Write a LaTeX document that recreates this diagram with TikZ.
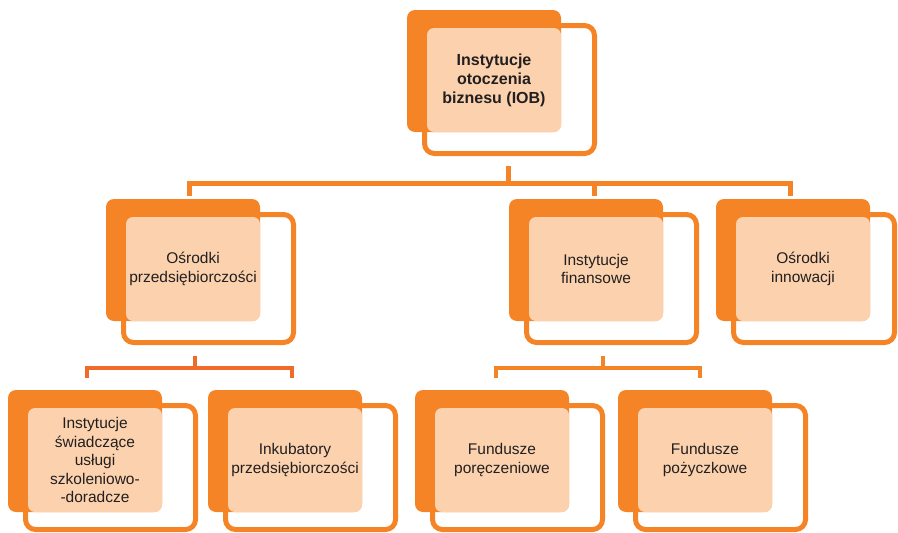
\documentclass[tikz,border=0pt]{standalone}
\usepackage{fontspec}
\setmainfont{Liberation Sans}
\definecolor{iobor}{HTML}{F58426}
\definecolor{iobred}{HTML}{F06A2A}
\definecolor{iobpe}{HTML}{FBD2AD}
\definecolor{iobtx}{HTML}{231F20}
\tikzset{
  orangebox/.style={fill=iobor, draw=none, rounded corners=8pt, inner sep=0pt, outer sep=0pt},
  ringbox/.style={draw=iobor, line width=5pt, rounded corners=10pt, inner sep=0pt, outer sep=0pt},
  peachbox/.style={fill=iobpe, draw=none, rounded corners=7pt, inner sep=0pt, outer sep=0pt,
    text=iobtx, align=center, font=\fontsize{15.5}{18.5}\selectfont},
  toptext/.style={font=\fontsize{16}{19}\selectfont\bfseries},
  bus/.style={draw=iobor, line width=5pt, line join=miter},
  busr/.style={draw=iobred, line width=4pt, line join=miter},
  busl/.style={draw=iobor, line width=4pt, line join=miter},
}
% [peach style], name, ox, oy, ring width, ring height, text
\newcommand\iobnode[7][]{%
  \node[orangebox, minimum width=154pt, minimum height=122pt, anchor=north west] (#2-b) at (#3,#4) {};
  \node[ringbox, minimum width=#5pt, minimum height=#6pt, anchor=north west] (#2-r) at (#3+17.5,#4+15.5) {};
  \node[peachbox, #1, minimum width=134pt, minimum height=104pt, anchor=north west] (#2) at (#3+20,#4+18) {#7};
}
\begin{document}
\begin{tikzpicture}[x=1pt,y=-1pt]
\useasboundingbox (0,0) rectangle (898,533);
% top level
\iobnode[toptext]{top}{407}{10}{170}{128}{Instytucje\\otoczenia\\biznesu (IOB)}
% second level
\iobnode{osp}{106}{199}{170}{128}{Ośrodki\\przedsiębiorczości}
\iobnode{inf}{509}{199}{170}{128}{Instytucje\\finansowe}
\iobnode{osi}{716}{199}{161}{128}{Ośrodki\\innowacji}
% third level
\iobnode{isu}{8}{390}{170}{124}{Instytucje\\świadczące\\usługi\\szkoleniowo-\\-doradcze}
\iobnode{ink}{208}{390}{170}{124}{Inkubatory\\przedsiębiorczości}
\iobnode{fpo}{415}{390}{170}{124}{Fundusze\\poręczeniowe}
\iobnode{fpz}{618}{390}{170}{124}{Fundusze\\pożyczkowe}
% connectors level 1
\coordinate (t0) at (508,166);
\coordinate (tb) at (508,183);
\coordinate (d1) at (189,196);
\coordinate (d2) at (594,196);
\coordinate (d3) at (790,196);
\draw[bus] (t0) -- (tb);
\draw[bus] (d1) -- (d1|-tb) -- (d3|-tb) -- (d3);
\draw[bus] (d2|-tb) -- (d2);
% connectors level 2 (left)
\coordinate (l0) at (195,356);
\coordinate (lb) at (195,367.5);
\coordinate (e1) at (87,378);
\coordinate (e2) at (292,378);
\draw[busr] (l0) -- (lb);
\draw[busr] (e1) -- (e1|-lb) -- (e2|-lb) -- (e2);
% connectors level 2 (right)
\coordinate (r0) at (603,356);
\coordinate (rb) at (603,367.5);
\coordinate (f1) at (496,378);
\coordinate (f2) at (700,378);
\draw[busl] (r0) -- (rb);
\draw[busl] (f1) -- (f1|-rb) -- (f2|-rb) -- (f2);
\end{tikzpicture}
\end{document}
